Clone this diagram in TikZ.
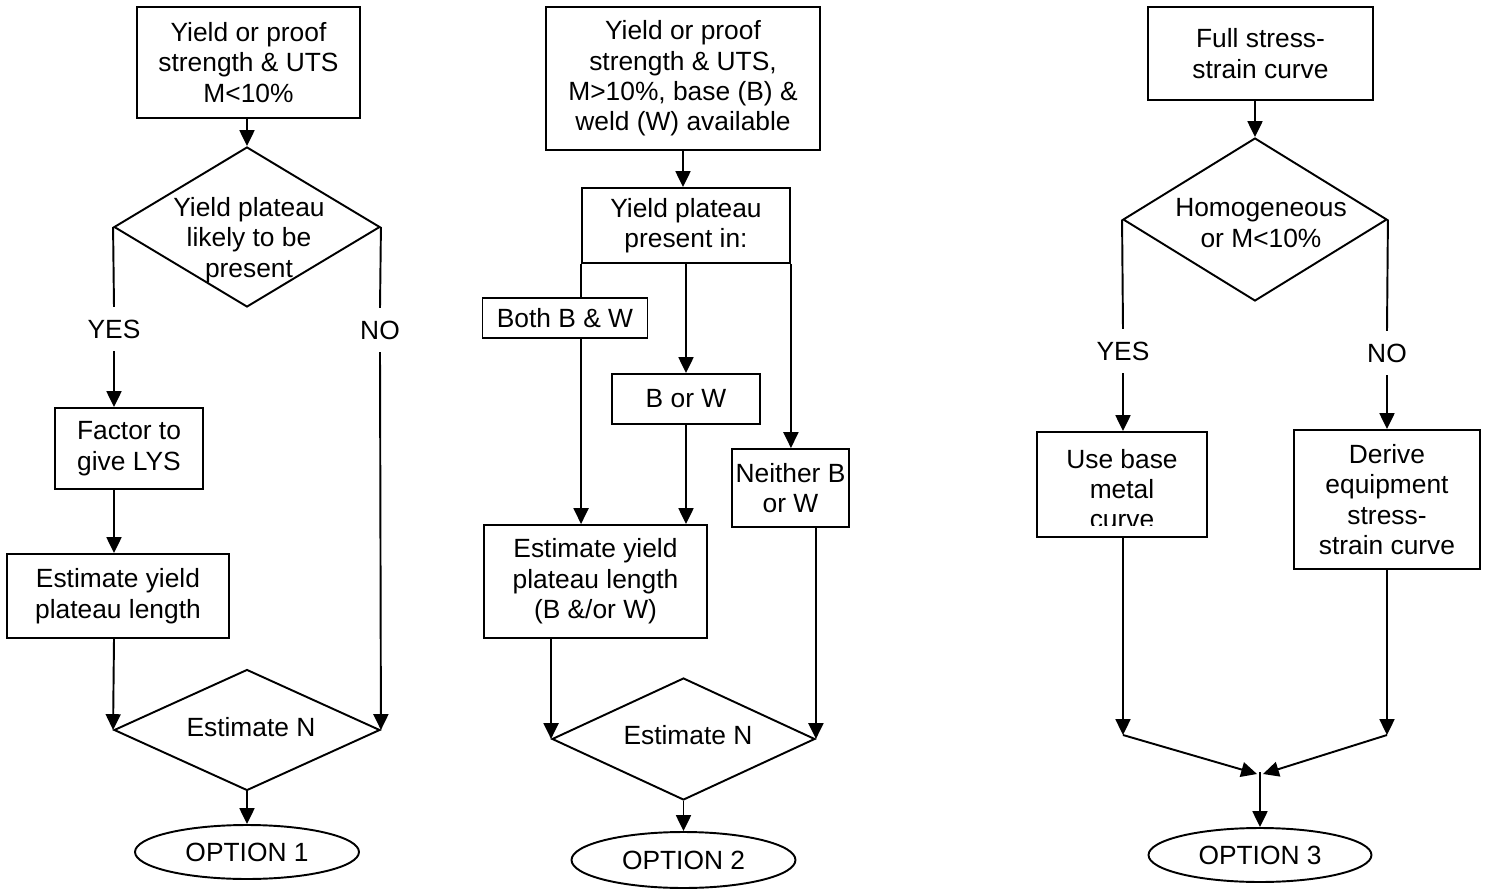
\documentclass[tikz,border=0pt]{standalone}
\usepackage{fontspec}
\setmainfont{Liberation Sans}
\usetikzlibrary{shapes.geometric,arrows.meta}
\begin{document}
\begin{tikzpicture}[x=0.02cm,y=-0.02cm,
  every node/.style={font=\fontsize{15pt}{17.3pt}\selectfont},
  line width=1.1pt,
  arr/.style={-{Triangle[length=9pt,width=8.5pt]}},
  boxnode/.style={draw,rectangle,inner sep=0pt,align=center},
  dmd/.style={draw,diamond,inner sep=0pt},
  ovl/.style={draw,ellipse,inner sep=0pt},
  lbl/.style={fill=white,inner xsep=2pt,inner ysep=6.5pt,text height=11pt,text depth=0pt}]
\useasboundingbox (0,0) rectangle (1489,889);
% ---------- column 1 ----------
\node[boxnode,minimum width=4.46cm,minimum height=2.22cm] (b1) at (248.5,62.5) {Yield or proof\\strength \& UTS\\M<10\%};
\node[dmd,minimum width=5.32cm,minimum height=3.2cm] (d1) at (247,227) {};
\node[align=center,inner sep=0pt] (d1t) at (249,240) {Yield plateau\\likely to be\\present};
\node[lbl] (yes1) at (114,329) {YES};
\node[lbl] (no1) at (380,330) {NO};
\node[boxnode,minimum width=2.96cm,minimum height=1.62cm] (fac) at (129,448.5) {Factor to\\give LYS};
\node[boxnode,minimum width=4.44cm,minimum height=1.68cm] (est1) at (118,596) {Estimate yield\\plateau length};
\node[dmd,minimum width=5.32cm,minimum height=2.42cm] (dN1) at (247,730) {};
\node[inner sep=0pt] (dN1t) at (251,727) {Estimate N};
\node[ovl,minimum width=4.48cm,minimum height=1.08cm] (opt1) at (247,852) {OPTION 1};
\draw[arr] (b1.south -| d1.north) -- (d1.north);
\draw (d1.west) -- (yes1.north);
\draw[arr] (yes1.south) -- (yes1.south |- fac.north);
\draw[arr] (yes1 |- fac.south) -- (yes1 |- est1.north);
\draw[arr] (yes1 |- est1.south) -- (dN1.west);
\draw (d1.east) -- (no1.north);
\draw[arr] (no1.south) -- (dN1.east);
\draw[arr] (dN1.south) -- (opt1.north);
% ---------- column 2 ----------
\node[boxnode,minimum width=5.48cm,minimum height=2.86cm] (b2) at (683,78.5) {Yield or proof\\strength \& UTS,\\M>10\%, base (B) \&\\weld (W) available};
\node[boxnode,minimum width=4.16cm,minimum height=1.5cm] (yp) at (686,225.5) {Yield plateau\\present in:};
\node[boxnode,minimum width=3.3cm,minimum height=0.8cm] (both) at (565,318) {Both B \& W};
\node[boxnode,minimum width=2.96cm,minimum height=1.0cm] (bw) at (686,399) {B or W};
\node[boxnode,minimum width=2.34cm,minimum height=1.56cm] (nei) at (790.5,488) {Neither B\\or W};
\node[boxnode,minimum width=4.46cm,minimum height=2.26cm] (est2) at (595.5,581.5) {Estimate yield\\plateau length\\(B \&/or W)};
\node[dmd,minimum width=5.26cm,minimum height=2.44cm] (dN2) at (683.5,739) {};
\node[inner sep=0pt] (dN2t) at (688,735) {Estimate N};
\node[ovl,minimum width=4.48cm,minimum height=1.12cm] (opt2) at (683.5,860) {OPTION 2};
\draw[arr] (b2.south) -- (b2.south |- yp.north);
\draw (yp.south west) -- (yp.south west |- both.north);
\draw[arr] (yp.south west |- both.south) -- (yp.south west |- est2.north);
\draw[arr] (yp.south) -- (bw.north);
\draw[arr] (bw.south) -- (bw.south |- est2.north);
\draw[arr] (yp.south east) -- (yp.south east |- nei.north);
\draw[arr] (dN2.east |- nei.south) -- (dN2.east);
\draw[arr] (dN2.west |- est2.south) -- (dN2.west);
\draw[arr] (dN2.south) -- (opt2.north);
% ---------- column 3 ----------
\node[boxnode,minimum width=4.5cm,minimum height=1.86cm] (b3) at (1260.5,53.5) {Full stress-\\strain curve};
\node[dmd,minimum width=5.28cm,minimum height=3.26cm] (d3) at (1255,219.5) {};
\node[align=center,inner sep=0pt] (d3t) at (1261,223) {Homogeneous\\or M<10\%};
\node[lbl] (yes3) at (1123,351) {YES};
\node[lbl] (no3) at (1387,353) {NO};
\node[boxnode,minimum width=3.4cm,minimum height=2.1cm] (use) at (1122,484.5) {};
\begin{scope}
  \clip (1037,432) rectangle (1207,525);
  \node[align=center,inner sep=0pt] (uset) at (1122,489) {Use base\\metal\\curve};
\end{scope}
\node[boxnode,minimum width=3.72cm,minimum height=2.78cm] (der) at (1387,499.5) {Derive\\equipment\\stress-\\strain curve};
\node[ovl,minimum width=4.46cm,minimum height=1.08cm] (opt3) at (1260,855) {OPTION 3};
\coordinate (m1) at (1123,735);
\coordinate (m2) at (1387,735);
\coordinate (j1) at (1257,774);
\coordinate (j2) at (1263,774);
\coordinate (j) at (1260,772);
\draw[arr] (d3.north |- b3.south) -- (d3.north);
\draw (d3.west) -- (yes3.north);
\draw[arr] (yes3.south) -- (yes3.south |- use.north);
\draw (d3.east) -- (no3.north);
\draw[arr] (no3.south) -- (no3.south |- der.north);
\draw[arr] (yes3 |- use.south) -- (m1);
\draw[arr] (no3 |- der.south) -- (m2);
\draw[arr] (m1) -- (j1);
\draw[arr] (m2) -- (j2);
\draw[arr] (j) -- (j |- opt3.north);
\end{tikzpicture}
\end{document}
